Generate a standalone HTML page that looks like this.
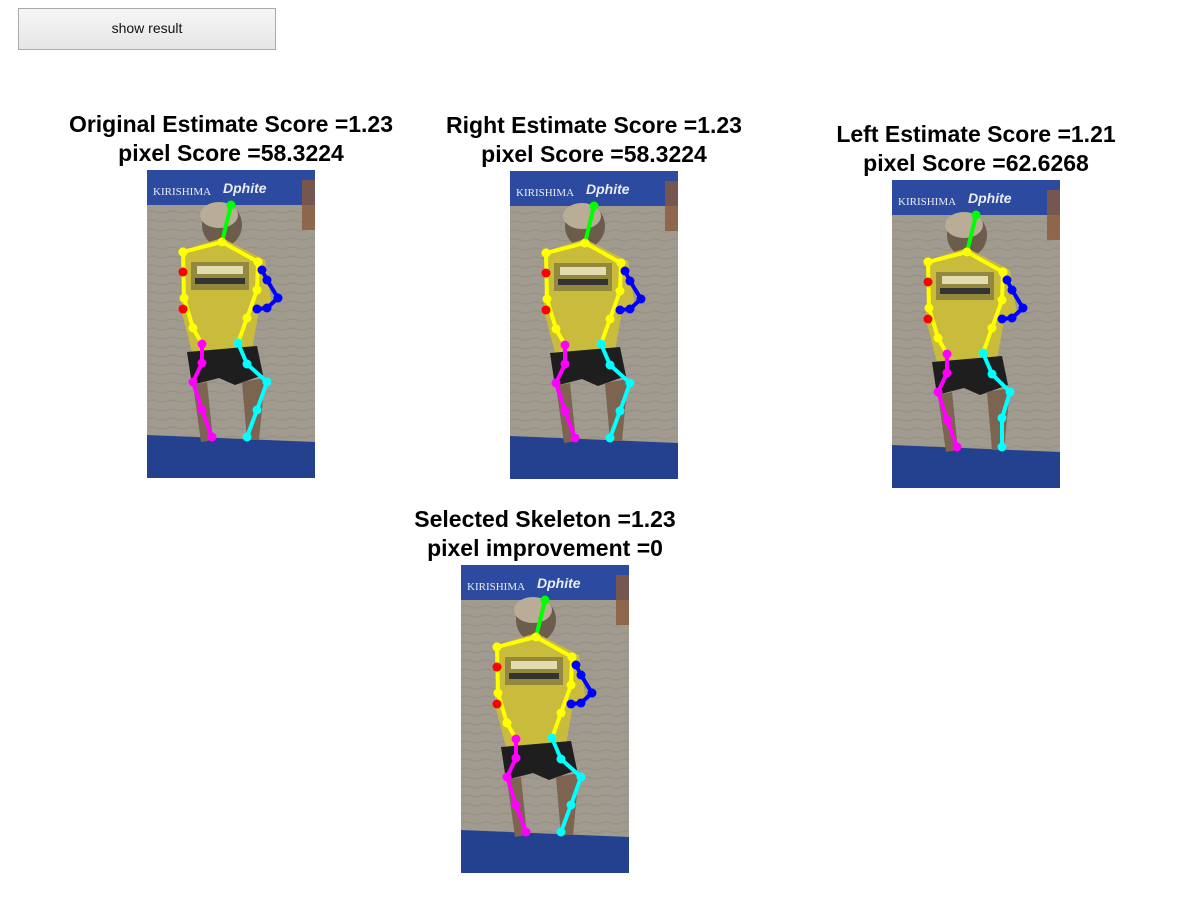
<!DOCTYPE html>
<html><head><meta charset="utf-8">
<style>
html,body{margin:0;padding:0;background:#fff;width:1200px;height:900px;overflow:hidden;font-family:"Liberation Sans",Arial,sans-serif}
#btn{position:absolute;left:18px;top:8px;width:256px;height:40px;border:1px solid #aaa;background:linear-gradient(#f6f6f6,#e6e6e6);font-size:14px;text-align:center;line-height:38px;color:#111;box-sizing:content-box}
svg{position:absolute;left:0;top:0}
</style></head><body>
<div id="btn">show result</div>
<svg id="fig" width="1200" height="900">
<defs>
<linearGradient id="sand" x1="0" y1="0" x2="1" y2="1">
<stop offset="0" stop-color="#a79f92"/><stop offset="0.5" stop-color="#9d968a"/><stop offset="1" stop-color="#a8a193"/>
</linearGradient>
<pattern id="ripple" width="20" height="9" patternUnits="userSpaceOnUse">
<rect width="20" height="9" fill="#a09a8f"/>
<path d="M0 6 Q5 4 10 6 T20 6" stroke="#7d776d" stroke-width="1.2" fill="none" opacity="0.3"/>
</pattern>
</defs>
</svg>
<script>
// panel data
const panelTitles1 = ["Original Estimate Score =1.23","Right Estimate Score =1.23","Left Estimate Score =1.21","Selected Skeleton =1.23"];
const panelTitles2 = ["pixel Score =58.3224","pixel Score =58.3224","pixel Score =62.6268","pixel improvement =0"];
const panelX = [147,510,892,461];
const panelY = [170,171,180,565];
const panelNames = ["original","right","left","selected"];
// skeleton joints (image coords, image is 168x308)
const headJ = [[84,35],[75,72]];
const shoulderJ = [[36,82],[75,72],[111,92]];
const torsoLeftJ = [[36,82],[37,128],[46,158],[55,174]];
const torsoRightJ = [[111,92],[110,120],[100,148],[91,173]];
const armRightJ = [[115,100],[120,110],[131,128],[120,138],[110,139]];
const redJ = [[36,102],[36,139]];
const legLeftJ = [[55,174],[55,193],[46,212],[55,240],[65,267]];
const legRightJ = [[91,173],[100,194],[120,212],[110,240],[100,267]];
const legRightLeftEstJ = [[91,173],[100,194],[118,212],[110,238],[110,267]];

const NS="http://www.w3.org/2000/svg";
const svg=document.getElementById('fig');
function mk(tag,attrs,parent){const e=document.createElementNS(NS,tag);for(const k in attrs)e.setAttribute(k,attrs[k]);(parent||svg).appendChild(e);return e;}
function chain(g,pts,color,name){
  const pl=mk('polyline',{points:pts.map(p=>p.join(',')).join(' '),stroke:color,'stroke-width':4,fill:'none','stroke-linejoin':'round','stroke-linecap':'round'},g);
  
  
  pts.forEach(p=>{const c=mk('circle',{cx:p[0],cy:p[1],r:4.5,fill:color},g);
    
    });
}
panelX.forEach((x,i)=>{
  const y=panelY[i], cx=x+84;
  const t1=mk('text',{x:cx,y:y-38,'text-anchor':'middle','font-size':23,'font-weight':'bold','font-family':'Liberation Sans, Arial, sans-serif',fill:'#000'});
  t1.textContent=panelTitles1[i];
  
  
  const t2=mk('text',{x:cx,y:y-9,'text-anchor':'middle','font-size':23,'font-weight':'bold','font-family':'Liberation Sans, Arial, sans-serif',fill:'#000'});
  t2.textContent=panelTitles2[i];
  
  
  const g=mk('g',{transform:`translate(${x},${y})`});
  
  
  // photo background
  mk('rect',{x:0,y:0,width:168,height:308,fill:'url(#ripple)'},g);
  mk('rect',{x:0,y:0,width:168,height:35,fill:'#2c4aa0'},g);
  const bt=mk('text',{x:6,y:25,'font-size':11,'font-family':'Liberation Serif, serif',fill:'#e8ecf4'},g);bt.textContent='KIRISHIMA';
  const bt2=mk('text',{x:76,y:23,'font-size':14,'font-style':'italic','font-weight':'bold','font-family':'Liberation Sans, sans-serif',fill:'#e8ecf4'},g);bt2.textContent='Dphite';
  mk('rect',{x:155,y:10,width:13,height:50,fill:'#8a5a3c',opacity:0.8},g);
  mk('path',{d:'M0 265 L168 272 L168 308 L0 308 Z',fill:'#24418f'},g);
  // person
  mk('ellipse',{cx:75,cy:55,rx:20,ry:22,fill:'#6b5c4c'},g);
  mk('ellipse',{cx:72,cy:45,rx:19,ry:13,fill:'#b9ad98'},g);
  mk('path',{d:'M36 80 L75 68 L118 90 L125 135 L112 140 L105 180 L45 182 L34 140 Z',fill:'#c9bb3c'},g);
  mk('rect',{x:44,y:92,width:58,height:28,fill:'#7a7340',opacity:0.7},g);
  mk('rect',{x:50,y:96,width:46,height:8,fill:'#e2dcb0'},g);
  mk('rect',{x:48,y:108,width:50,height:6,fill:'#333'},g);
  mk('path',{d:'M40 182 L110 176 L116 205 L88 215 L72 208 L45 215 Z',fill:'#1e1e1e'},g);
  mk('path',{d:'M46 215 L60 212 L66 270 L54 272 Z',fill:'#7d6450'},g);
  mk('path',{d:'M95 212 L118 208 L112 270 L100 270 Z',fill:'#7d6450'},g);
  // skeleton
  chain(g,headJ,'#00ff00','head');
  chain(g,shoulderJ,'#ffff00','shoulder');
  chain(g,torsoLeftJ,'#ffff00','torso-left');
  chain(g,torsoRightJ,'#ffff00','torso-right');
  chain(g,armRightJ,'#0000ff','right-arm');
  redJ.forEach(p=>{const c=mk('circle',{cx:p[0],cy:p[1],r:4.5,fill:'#ff0000'},g);
    
    });
  chain(g,legLeftJ,'#ff00ff','left-leg');
  chain(g,i===2?legRightLeftEstJ:legRightJ,'#00ffff','right-leg');
});
</script>
</body></html>
